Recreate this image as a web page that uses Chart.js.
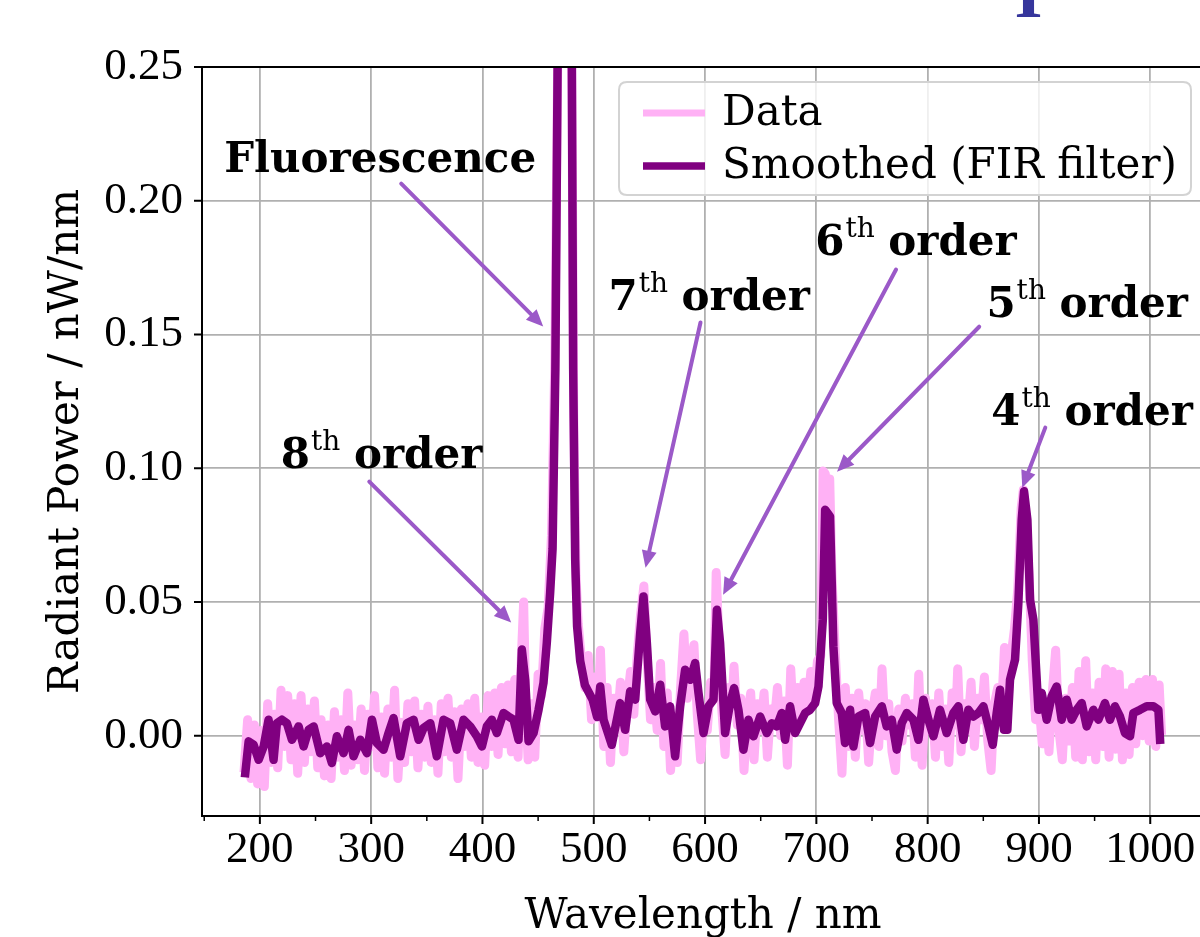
<!DOCTYPE html>
<html>
<head>
<meta charset="utf-8">
<script src="https://cdn.jsdelivr.net/npm/chart.js@4.4.1/dist/chart.umd.min.js"></script>
<style>
html,body{margin:0;padding:0;background:#fff;overflow:hidden}
#wrap{position:relative;width:1200px;height:937px}
</style>
</head>
<body>
<div id="wrap"><canvas id="c" width="1200" height="937"></canvas></div>
<script>
// ---------------- data ----------------
const seriesNames = ['Data', 'Smoothed (FIR filter)'];

const dataX = [186,189,192,195,198,201,204,207,210,213,216,219,222,225,228,231,234,237,240,243,
246,249,252,255,258,261,264,267,270,273,276,279,282,285,288,291,294,297,300,303,
306,309,312,315,318,321,324,327,330,333,336,339,342,345,348,351,354,357,360,363,
366,369,372,375,378,381,384,387,390,393,396,399,402,405,408,411,414,417,420,423,
426,429,432,435,437,439,441,444,447,450,453,456,459,462,465,468,471,474,477,480,
482,484,486,489,492,495,498,501,504,506,509,512,515,518,521,524,527,530,533,536,
539,542,545,548,551,554,557,560,563,566,569,572,575,578,581,584,587,590,593,596,
599,602,605,608,610,612,615,618,621,624,626,629,632,635,638,641,644,647,650,653,
656,659,662,665,668,671,674,677,680,683,686,689,692,695,698,701,704,706,708,710,
712,714,717,720,723,726,729,732,735,738,741,744,747,750,753,756,759,762,765,768,
771,774,777,780,783,786,789,792,795,798,801,804,807,810,813,816,819,822,825,827,
830,833,836,839,842,845,848,851,854,857,860,863,866,869,872,875,878,881,884,886,
888,891,894,897,900,903,906,909,912,915,918,921,924,927,930,933,936,939,942,945,
948,951,954,957,960,963,966,969,972,975,978,981,984,987,990,993,996,999,1002,1005,
1008,1010];

const dataY = [-0.012,0.006,-0.016,0.004,-0.018,0.002,-0.019,0.012,-0.010,0.008,-0.012,0.017,-0.004,0.015,-0.009,0.012,-0.014,0.015,-0.010,0.010,
-0.006,0.013,-0.012,0.006,-0.015,0.004,-0.016,0.009,-0.008,0.006,-0.013,0.016,-0.011,0.004,-0.009,0.010,-0.013,0.008,-0.004,0.015,
-0.012,0.007,-0.014,0.010,-0.008,0.017,-0.016,0.005,-0.010,0.012,-0.006,0.013,-0.012,0.008,-0.008,0.011,-0.010,0.006,-0.014,0.012,
-0.006,0.014,-0.008,0.009,-0.016,0.010,-0.004,0.012,-0.008,0.014,-0.010,0.007,-0.011,0.015,-0.004,0.016,-0.007,0.018,-0.003,0.019,
-0.006,0.021,-0.008,0.030,0.050,0.010,-0.009,0.012,-0.008,0.023,0.015,0.040,0.048,0.075,0.140,0.270,0.450,0.550,0.450,0.270,
0.120,0.060,0.042,0.028,0.018,0.030,0.006,0.022,0.012,0.032,-0.004,0.018,-0.010,0.014,0.004,0.020,-0.006,0.012,0.024,0.008,
0.030,0.045,0.056,0.028,0.006,0.018,0.002,0.027,-0.004,0.016,-0.013,0.005,-0.010,0.018,0.038,0.014,0.026,0.034,0.008,-0.009,
0.010,0.002,0.020,0.016,0.061,0.040,0.010,-0.007,0.018,0.010,0.026,0.004,0.014,-0.013,0.008,0.016,-0.009,0.012,0.002,0.016,
-0.008,0.010,0.004,0.018,0.000,0.013,-0.011,0.025,0.002,0.018,0.006,0.020,0.010,0.024,0.014,0.028,0.030,0.099,0.098,0.090,
0.096,0.060,0.031,0.006,-0.014,0.018,-0.004,0.014,-0.008,0.016,0.002,0.012,-0.010,0.008,0.016,-0.004,0.025,0.000,0.012,-0.006,
-0.013,0.010,-0.002,0.014,0.004,0.012,-0.008,0.023,-0.011,0.014,0.002,0.012,-0.008,0.016,-0.004,0.010,-0.010,0.016,0.004,0.025,
-0.006,0.012,0.002,0.020,-0.004,0.014,0.006,0.022,-0.002,-0.013,0.012,0.018,0.006,0.033,0.012,0.030,0.040,0.055,0.085,0.092,
0.080,0.061,0.028,0.006,0.012,-0.003,0.010,-0.006,0.016,0.032,0.002,-0.009,0.014,-0.002,0.018,-0.008,0.024,-0.009,0.028,-0.006,
0.016,-0.009,0.020,-0.004,0.025,-0.008,0.024,-0.005,0.023,-0.009,0.016,-0.007,0.018,-0.003,0.020,0.000,0.021,-0.002,0.021,-0.004,
0.019,0.002];

const smoothX = [186.9,189.9,194.4,198.9,203.4,207.8,212.3,215.3,219.8,224.3,228.8,234.8,239.3,243.8,248.3,254.2,260.2,264.7,269.2,275.2,
279.7,284.2,290.2,296.2,300.7,305.1,311.1,315.6,320.1,326.1,332.1,338.1,342.6,347.1,353.1,359.0,365.0,371.0,377.0,383.0,
389.0,395.0,399.5,403.9,408.4,412.9,418.9,423.4,427.9,432.4,435.4,438.4,441.4,445.9,450.4,454.8,457.8,460.8,463.0,465.5,
467.5,470.5,474.0,477.5,480.3,481.5,483.3,485.0,487.8,492.0,499.0,503.0,505.8,508.8,516.2,523.7,528.2,532.7,537.2,541.7,
544.7,547.7,550.7,555.2,559.7,564.1,568.6,573.1,577.6,582.1,586.6,591.1,594.1,598.6,603.1,607.6,610.6,613.5,618.0,622.5,
626.1,630.0,634.5,639.0,643.5,649.5,655.5,660.0,664.4,668.9,671.9,676.4,680.9,685.4,689.9,694.4,698.9,701.9,705.8,707.9,
712.3,715.3,718.3,722.8,725.8,730.3,733.3,737.8,743.8,748.3,752.8,758.8,763.2,767.7,772.2,776.7,781.2,787.2,791.7,796.2,
800.7,805.2,811.1,817.1,823.1,827.6,832.1,836.6,841.1,845.6,850.1,854.6,858.5,862.0,865.0,868.6,871.6,874.0,878.5,881.5,
884.5,886.6,889.6,892.0,895.0,898.0,899.5,902.5,907.0,911.4,915.9,920.4,924.9,929.4,933.9,938.4,942.9,948.9,953.4,959.3,
963.8,968.3,972.8,977.3,981.8,984.8,990.8,996.8,1002.8,1007.3,1008.8];

const smoothY = [-0.0140,-0.0021,-0.0034,-0.0090,-0.0040,0.0060,-0.0090,0.0047,0.0060,0.0047,-0.0015,0.0035,-0.0040,0.0022,0.0035,-0.0065,-0.0040,-0.0102,-0.0002,-0.0065,
0.0022,-0.0077,-0.0015,-0.0065,0.0060,-0.0027,-0.0052,0.0010,0.0066,-0.0077,0.0047,0.0060,-0.0015,0.0029,0.0047,-0.0077,0.0060,0.0047,-0.0052,0.0060,
0.0035,-0.0002,-0.0040,0.0035,0.0060,0.0010,0.0085,0.0072,0.0060,-0.0015,0.0322,0.0209,-0.0021,0.0010,0.0097,0.0197,0.0347,0.0534,0.0700,0.1370,
0.2500,0.4200,0.5000,0.4200,0.2500,0.1370,0.0660,0.0410,0.0280,0.0190,0.0135,0.0070,0.0184,0.0060,-0.0034,0.0122,0.0022,0.0166,0.0135,0.0384,
0.0521,0.0347,0.0135,0.0091,0.0191,0.0035,0.0110,-0.0077,0.0110,0.0247,0.0209,0.0272,0.0160,0.0010,0.0110,0.0135,0.0471,0.0347,0.0010,0.0122,
0.0178,0.0097,-0.0052,0.0060,-0.0002,0.0072,0.0010,0.0047,0.0035,0.0085,-0.0015,0.0110,0.0010,0.0047,0.0085,0.0097,0.0122,0.0184,0.0434,0.0845,
0.0820,0.0334,0.0122,0.0085,-0.0027,0.0097,-0.0040,0.0072,0.0085,-0.0027,0.0072,0.0110,0.0035,0.0060,-0.0052,0.0047,0.0085,0.0060,-0.0015,0.0135,
0.0060,-0.0002,0.0097,0.0010,0.0085,0.0110,-0.0015,0.0097,0.0072,0.0085,0.0110,0.0035,-0.0034,0.0085,0.0172,0.0022,0.0022,0.0209,0.0284,0.0496,
0.0808,0.0914,0.0808,0.0509,0.0434,0.0209,0.0097,0.0160,0.0060,0.0147,0.0184,0.0060,0.0135,0.0060,0.0097,0.0122,0.0035,0.0097,0.0060,0.0122,
0.0060,0.0110,0.0072,0.0010,-0.0002,0.0085,0.0097,0.0110,0.0110,0.0097,-0.0015];

const xTickValues = [150,200,250,300,350,400,450,500,550,600,650,700,750,800,850,900,950,1000];
const yTickValues = [0.00,0.05,0.10,0.15,0.20,0.25];
const xTitle = 'Wavelength / nm';
const yTitle = 'Radiant Power / nW/nm';

// annotations (text: [main, superscript, rest]) in data coordinates
const annText = [['Fluorescence','',''],['8','th',' order'],['7','th',' order'],['6','th',' order'],['5','th',' order'],['4','th',' order']];
const annTextX = [308.1, 309.3, 603.7, 789.5, 943.3, 947.7];
const annTextY = [0.2109, 0.1002, 0.1593, 0.1799, 0.1567, 0.1163];
const arrowFromX = [327.0, 298.3, 595.9, 771.6, 846.3, 905.7];
const arrowFromY = [0.2064, 0.0950, 0.1545, 0.1743, 0.1529, 0.1152];
const arrowToX = [454.6, 425.8, 546.5, 616.2, 718.6, 885.0];
const arrowToY = [0.1530, 0.0423, 0.0628, 0.0527, 0.0987, 0.0927];

// ---------------- styles ----------------
const PINK = '#ffb1f5';
const PURPLE = '#800080';
const ARROW = '#9b59c8';
const SERIF = '"DejaVu Serif", serif';
const TICKFONT = '"Liberation Serif", serif';

const decor = {
  id: 'decor',
  afterDatasetsDraw(chart) {
    const ctx = chart.ctx, a = chart.chartArea;
    const xs = chart.scales.x, ys = chart.scales.y;
    ctx.save();
    // spines
    ctx.strokeStyle = '#000';
    ctx.lineWidth = 2;
    ctx.lineCap = 'butt';
    ctx.beginPath();
    ctx.moveTo(a.left, a.bottom + 1); ctx.lineTo(a.left, a.top - 1);
    ctx.moveTo(a.left - 1, a.top); ctx.lineTo(a.right, a.top);
    ctx.moveTo(a.left - 1, a.bottom); ctx.lineTo(a.right, a.bottom);
    ctx.stroke();
    // ticks
    xTickValues.forEach(v => {
      const px = xs.getPixelForValue(v);
      const major = v % 100 === 0;
      ctx.lineWidth = major ? 2 : 1.5;
      ctx.beginPath();
      ctx.moveTo(px, a.bottom);
      ctx.lineTo(px, a.bottom + (major ? 8 : 5));
      ctx.stroke();
    });
    yTickValues.forEach(v => {
      const py = ys.getPixelForValue(v);
      ctx.lineWidth = 2;
      ctx.beginPath();
      ctx.moveTo(a.left - 8, py);
      ctx.lineTo(a.left, py);
      ctx.stroke();
    });
    // arrows
    for (let i = 0; i < annText.length; i++) {
      const x0 = xs.getPixelForValue(arrowFromX[i]), y0 = ys.getPixelForValue(arrowFromY[i]);
      const x1 = xs.getPixelForValue(arrowToX[i]), y1 = ys.getPixelForValue(arrowToY[i]);
      const dx = x1 - x0, dy = y1 - y0, L = Math.hypot(dx, dy);
      const ux = dx / L, uy = dy / L;
      const hl = 17, hw = 7.5;
      const bx = x1 - ux * hl, by = y1 - uy * hl;
      ctx.strokeStyle = ARROW; ctx.fillStyle = ARROW;
      ctx.lineWidth = 4; ctx.lineCap = 'round';
      ctx.beginPath(); ctx.moveTo(x0, y0); ctx.lineTo(bx + ux * 2, by + uy * 2); ctx.stroke();
      ctx.beginPath();
      ctx.moveTo(x1, y1);
      ctx.lineTo(bx - uy * hw, by + ux * hw);
      ctx.lineTo(bx + uy * hw, by - ux * hw);
      ctx.closePath(); ctx.fill();
    }
    // annotation texts
    ctx.fillStyle = '#000';
    ctx.textBaseline = 'alphabetic';
    ctx.textAlign = 'left';
    for (let i = 0; i < annText.length; i++) {
      const [m, s, r] = annText[i];
      const cx = xs.getPixelForValue(annTextX[i]), by = ys.getPixelForValue(annTextY[i]);
      const fMain = 'bold 42px ' + SERIF;
      const fSup = '28px ' + SERIF;
      ctx.font = fMain; const wm = ctx.measureText(m).width; const wr = r ? ctx.measureText(r).width : 0;
      ctx.font = fSup; const ws = s ? ctx.measureText(s).width : 0;
      let x = cx - (wm + ws + wr) / 2;
      ctx.font = fMain; ctx.fillText(m, x, by); x += wm;
      if (s) { ctx.font = fSup; ctx.fillText(s, x + 1, by - 18); x += ws; }
      if (r) { ctx.font = fMain; ctx.fillText(r, x, by); }
    }
    ctx.restore();
  },
  afterDraw(chart) {
    const ctx = chart.ctx, a = chart.chartArea;
    ctx.save();
    // axis titles
    ctx.fillStyle = '#000';
    ctx.font = '42px ' + SERIF;
    ctx.textAlign = 'center';
    ctx.textBaseline = 'alphabetic';
    ctx.fillText(xTitle, (a.left + a.right) / 2 + 2, 928);
    ctx.save();
    ctx.translate(78, (a.top + a.bottom) / 2);
    ctx.rotate(-Math.PI / 2);
    ctx.fillText(yTitle, 0, 0);
    ctx.restore();
    // legend
    const lx = 619, ly = 82, lw = 572, lh = 113, r = 8;
    ctx.beginPath();
    ctx.moveTo(lx + r, ly); ctx.lineTo(lx + lw - r, ly); ctx.quadraticCurveTo(lx + lw, ly, lx + lw, ly + r);
    ctx.lineTo(lx + lw, ly + lh - r); ctx.quadraticCurveTo(lx + lw, ly + lh, lx + lw - r, ly + lh);
    ctx.lineTo(lx + r, ly + lh); ctx.quadraticCurveTo(lx, ly + lh, lx, ly + lh - r);
    ctx.lineTo(lx, ly + r); ctx.quadraticCurveTo(lx, ly, lx + r, ly);
    ctx.closePath();
    ctx.fillStyle = 'rgba(255,255,255,0.8)'; ctx.fill();
    ctx.strokeStyle = '#d3d3d3'; ctx.lineWidth = 2; ctx.stroke();
    const cols = [PINK, PURPLE], ws = [7, 7.5], rows = [113, 166], bases = [125, 178];
    for (let i = 0; i < 2; i++) {
      ctx.strokeStyle = cols[i]; ctx.lineWidth = ws[i]; ctx.lineCap = 'butt';
      ctx.beginPath(); ctx.moveTo(643, rows[i]); ctx.lineTo(705, rows[i]); ctx.stroke();
      ctx.fillStyle = '#000'; ctx.font = '42px ' + SERIF; ctx.textAlign = 'left';
      ctx.fillText(seriesNames[i], 722, bases[i]);
    }
    // cut-off title fragment at top
    ctx.fillStyle = '#36369c';
    ctx.font = 'bold 72px "Liberation Serif", serif';
    ctx.textAlign = 'center';
    ctx.fillText('I', 1028.5, 17);
    ctx.restore();
  }
};

const mk = (xa, ya) => xa.map((x, i) => ({ x: x, y: ya[i] }));

new Chart(document.getElementById('c'), {
  type: 'line',
  data: {
    datasets: [
      { label: seriesNames[0], data: mk(dataX, dataY), borderColor: PINK, borderWidth: 9, order: 2,
        pointRadius: 0, tension: 0, borderJoinStyle: 'round', borderCapStyle: 'square', fill: false,
        clip: { left: 0, top: 0, right: 0, bottom: 0 } },
      { label: seriesNames[1], data: mk(smoothX, smoothY), borderColor: PURPLE, borderWidth: 8.5, order: 1,
        pointRadius: 0, tension: 0, borderJoinStyle: 'round', borderCapStyle: 'square', fill: false,
        clip: { left: 0, top: 0, right: 0, bottom: 0 } }
    ]
  },
  options: {
    responsive: false,
    animation: false,
    devicePixelRatio: 1,
    layout: { padding: { top: 67, left: 0, right: 0, bottom: 0 } },
    plugins: { legend: { display: false }, tooltip: { enabled: false } },
    scales: {
      x: {
        type: 'linear', min: 148, max: 1044.7, position: 'bottom',
        afterBuildTicks: s => { s.ticks = xTickValues.map(v => ({ value: v })); },
        afterFit: s => { s.height = 121; s.paddingLeft = 0; s.paddingRight = 0; },
        ticks: { autoSkip: false, maxRotation: 0, minRotation: 0, color: '#000', padding: 7,
          font: { family: TICKFONT, size: 45 },
          callback: v => (v % 100 === 0 ? String(v) : '') },
        grid: { color: c => (c.tick && c.tick.value % 100 === 0 ? '#b0b0b0' : 'rgba(0,0,0,0)'),
          lineWidth: 1.8, drawTicks: false },
        border: { display: false }
      },
      y: {
        type: 'linear', min: -0.03, max: 0.25,
        afterBuildTicks: s => { s.ticks = yTickValues.map(v => ({ value: v })); },
        afterFit: s => { s.width = 202; s.paddingTop = 0; s.paddingBottom = 0; },
        ticks: { color: '#000', padding: 19, font: { family: TICKFONT, size: 45 },
          callback: v => Number(v).toFixed(2) },
        grid: { color: '#b0b0b0', lineWidth: 1.8, drawTicks: false },
        border: { display: false }
      }
    }
  },
  plugins: [decor]
});
</script>
</body>
</html>
